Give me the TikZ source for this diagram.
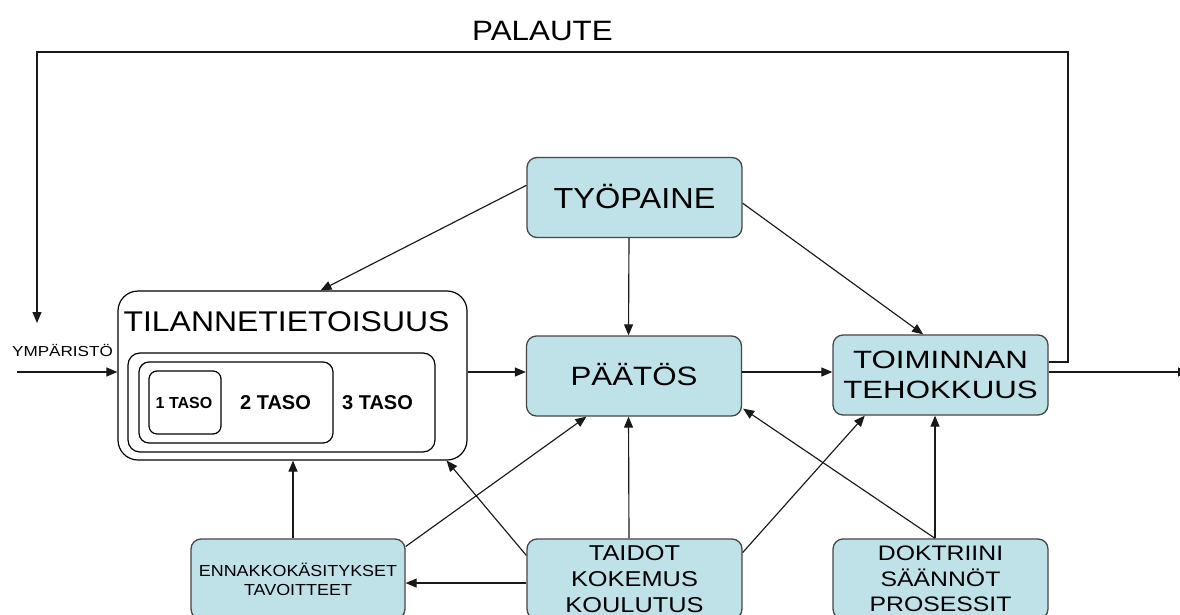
\documentclass[tikz,border=0pt]{standalone}
\usepackage{fontspec}
\setmainfont{Liberation Sans}
\newfontfamily\wideA{Liberation Sans}[FakeStretch=1.12]
\newfontfamily\wideB{Liberation Sans}[FakeStretch=1.18]
\newfontfamily\wideC{Liberation Sans}[FakeStretch=1.25]
\usetikzlibrary{arrows.meta,calc}

\definecolor{boxfill}{RGB}{191,226,232}
\definecolor{boxline}{RGB}{70,70,70}
\definecolor{wire}{RGB}{25,25,25}

\begin{document}
\begin{tikzpicture}[x=1pt,y=-1pt,
  blue box/.style={draw=boxline, line width=1.3pt, fill=boxfill,
    rounded corners=10pt, minimum width=215pt, minimum height=80pt,
    inner sep=0pt, align=center},
  frame/.style={draw=black, line width=1.2pt, rounded corners=#1,
    inner sep=0pt, fill=white},
  conn/.style={draw=wire, line width=1.15pt, -{Triangle[length=11pt,width=9pt]}},
  label text/.style={inner sep=0pt, anchor=base}]

\clip (0,0) rectangle (1180,615);
\fill[white] (0,0) rectangle (1180,615);

% situational awareness frame with its three nested levels
\node[frame=20pt, minimum width=349pt, minimum height=169pt] (tila) at (292.5,375.5) {};
\node[frame=12pt, minimum width=307pt, minimum height=99pt] (lv3) at (281.5,402.5) {};
\node[frame=10pt, minimum width=194pt, minimum height=81pt] (lv2) at (236,402.5) {};
\node[frame=8pt, minimum width=72pt, minimum height=63pt] (lv1) at (185,402.5) {};
\node[label text, font={\wideA\fontsize{28.5}{30}\selectfont}] (tilat) at (286.5,331.7) {TILANNETIETOISUUS};
\node[label text, font={\bfseries\fontsize{16}{18}\selectfont}] (t1) at (184,408.3) {1 TASO};
\node[label text, font={\bfseries\fontsize{20}{22}\selectfont}] (t2) at (275.5,409.3) {2 TASO};
\node[label text, font={\bfseries\fontsize{20}{22}\selectfont}] (t3) at (377.5,409.3) {3 TASO};

% process boxes
\node[blue box, text height=21pt, text depth=0pt, font={\wideA\fontsize{29}{31}\selectfont}] (ty) at (634.5,197.5) {TYÖPAINE};
\node[blue box, text height=19pt, text depth=0pt, font={\wideB\fontsize{26.5}{28}\selectfont}] (pa) at (634,376) {PÄÄTÖS};
\node[blue box, font={\wideC\fontsize{25}{30}\selectfont}] (to) at (940.5,375) {TOIMINNAN\\TEHOKKUUS};
\node[blue box, minimum width=214pt, font={\wideA\fontsize{16}{19}\selectfont}] (en) at (298,579) {ENNAKKOKÄSITYKSET\\TAVOITTEET};
\node[blue box, font={\wideB\fontsize{21.5}{26}\selectfont}] (ta) at (634.5,579) {TAIDOT\\KOKEMUS\\KOULUTUS};
\node[blue box, font={\wideB\fontsize{21}{25.5}\selectfont}] (do) at (940.5,579) {DOKTRIINI\\SÄÄNNÖT\\PROSESSIT};

% free labels
\node[label text, font={\wideA\fontsize{28}{30}\selectfont}] (palaute) at (542.5,40.7) {PALAUTE};
\node[label text, font={\wideB\fontsize{14.5}{16}\selectfont}] (ymp) at (62.5,356) {YMPÄRISTÖ};

% main horizontal flow
\coordinate (row) at (0,372);
\coordinate (envin) at (17,372);
\coordinate (outend) at (1189,372);
\draw[conn] (envin) -- (tila.west |- row);
\draw[conn] (tila.east |- row) -- (pa.west |- row);
\draw[conn] (pa.east |- row) -- (to.west |- row);
\draw[conn] (to.east |- row) -- (outend);

% feedback loop
\coordinate (fbR) at (1068,52);
\coordinate (fbL) at (37,52);
\coordinate (fbend) at (37,323);
\draw[conn] ($(to.north east)!0.34!(to.south east)$) -| (fbR) -- (fbL) -- (fbend);

% influences from the workload
\draw[conn] ($(ty.north west)!0.35!(ty.south west)$) -- ($(tila.north west)!0.58!(tila.north east)$);
\draw[conn] ($(ty.south)+(-5.5,0)$) -- ($(pa.north)+(-5.5,0)$);
\draw[conn] ($(ty.north east)!0.57!(ty.south east)$) -- ($(to.north west)!0.42!(to.north east)$);

% influences from below
\draw[conn] ($(en.north)+(-5,0)$) coordinate (p) -- (p |- tila.south);
\draw[conn] ($(en.north east)!0.1!(en.south east)$) -- ($(pa.south west)!0.28!(pa.south east)$);
\draw[conn] ($(ta.north west)!0.21!(ta.south west)$) -- ($(tila.south west)!0.94!(tila.south east)$);
\draw[conn] ($(ta.north west)!0.55!(ta.south west)$) coordinate (q) -- (q -| en.east);
\draw[conn] ($(ta.north)+(-5.5,0)$) -- ($(pa.south)+(-5.5,0)$);
\draw[conn] ($(ta.north east)!0.175!(ta.south east)$) -- ($(to.south west)!0.15!(to.south east)$);
\draw[conn] ($(do.north)+(-5.5,0)$) -- ($(to.south)+(-5.5,0)$);
\draw[conn] ($(do.north)+(-5.5,0)$) -- ($(pa.south east)+(1,-8)$);

\end{tikzpicture}
\end{document}
